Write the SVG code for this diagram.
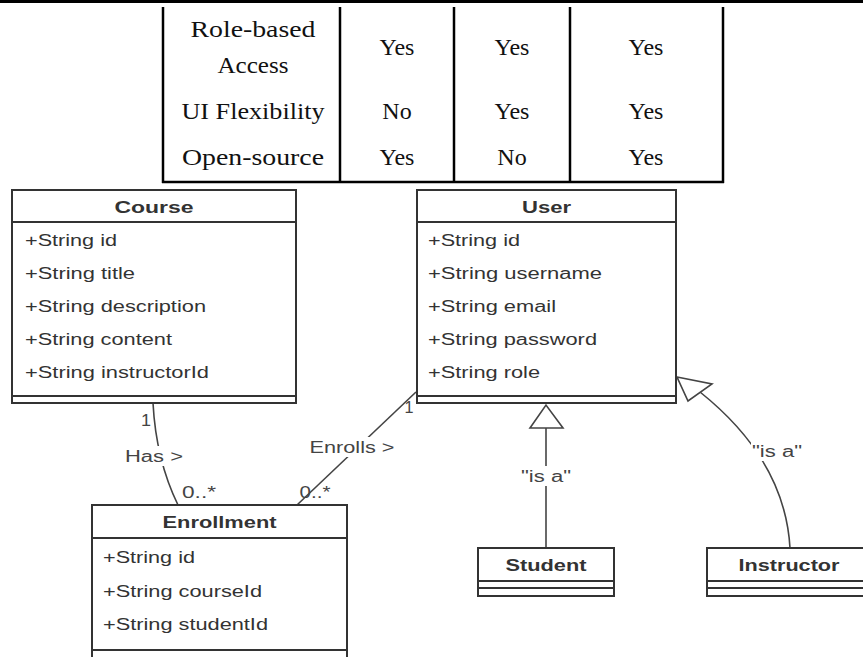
<svg xmlns="http://www.w3.org/2000/svg" width="863" height="657" viewBox="0 0 863 657">
<style>
.tbl{font-family:"Liberation Serif",serif;font-size:24px;fill:#111;text-anchor:middle}
.box{fill:#fff;stroke:#333;stroke-width:2}
.sep{stroke:#333;stroke-width:2}
.hd{font-family:"Liberation Sans",Arial,sans-serif;font-size:16px;font-weight:bold;fill:#333;text-anchor:middle}
.at{font-family:"Liberation Sans",Arial,sans-serif;font-size:16px;fill:#333}
.lb{font-family:"Liberation Sans",Arial,sans-serif;font-size:16px;fill:#444;text-anchor:middle}
.ln{fill:none;stroke:#444;stroke-width:1.6}
.tri{fill:#fff;stroke:#444;stroke-width:1.6}
.bg{fill:#fff}
</style>
<rect width="863" height="657" fill="#fff"/>
<g id="table">
<rect x="0" y="0" width="863" height="3" fill="#000"/>
<g stroke="#000" stroke-width="2.5">
<line x1="163" y1="7" x2="163" y2="183"/>
<line x1="340" y1="7" x2="340" y2="183"/>
<line x1="454" y1="7" x2="454" y2="183"/>
<line x1="570" y1="7" x2="570" y2="183"/>
<line x1="723" y1="7" x2="723" y2="183"/>
<line x1="162" y1="182" x2="724" y2="182"/>
</g>
<text class="tbl" x="253" y="37" textLength="125" lengthAdjust="spacingAndGlyphs">Role-based</text>
<text class="tbl" x="253" y="73" textLength="71" lengthAdjust="spacingAndGlyphs">Access</text>
<text class="tbl" x="253" y="119" textLength="143" lengthAdjust="spacingAndGlyphs">UI Flexibility</text>
<text class="tbl" x="253" y="165" textLength="142" lengthAdjust="spacingAndGlyphs">Open-source</text>
<text class="tbl" x="397" y="55">Yes</text>
<text class="tbl" x="512" y="55">Yes</text>
<text class="tbl" x="646" y="55">Yes</text>
<text class="tbl" x="397" y="119">No</text>
<text class="tbl" x="512" y="119">Yes</text>
<text class="tbl" x="646" y="119">Yes</text>
<text class="tbl" x="397" y="165">Yes</text>
<text class="tbl" x="512" y="165">No</text>
<text class="tbl" x="646" y="165">Yes</text>
</g>
<g id="connectors">
<path class="ln" d="M153,403 Q156,460 178,505"/>
<line class="ln" x1="416" y1="392" x2="297" y2="505"/>
<line class="ln" x1="546" y1="548" x2="546" y2="428"/>
<polygon class="tri" points="530,428 563,428 546,405"/>
<path class="ln" d="M790,548 Q785,460 700,392"/>
<polygon class="tri" points="677,377 712,384 688,401"/>
<rect class="bg" x="124" y="446" width="62" height="20"/>
<text class="lb" x="154" y="462" textLength="58" lengthAdjust="spacingAndGlyphs">Has &gt;</text>
<rect class="bg" x="308" y="437" width="90" height="20"/>
<text class="lb" x="352" y="453" textLength="85" lengthAdjust="spacingAndGlyphs">Enrolls &gt;</text>
<rect class="bg" x="520" y="466" width="52" height="20"/>
<text class="lb" x="546" y="482" textLength="50" lengthAdjust="spacingAndGlyphs">"is a"</text>
<rect class="bg" x="751" y="441" width="52" height="20"/>
<text class="lb" x="777" y="457" textLength="50" lengthAdjust="spacingAndGlyphs">"is a"</text>
<text class="lb" x="146" y="426" textLength="10" lengthAdjust="spacingAndGlyphs">1</text>
<text class="lb" x="199" y="498" textLength="34" lengthAdjust="spacingAndGlyphs">0..*</text>
<text class="lb" x="315" y="498" textLength="31" lengthAdjust="spacingAndGlyphs">0..*</text>
<text class="lb" x="409" y="413" textLength="9" lengthAdjust="spacingAndGlyphs">1</text>
</g>
<g id="course">
<rect class="box" x="12" y="190" width="284" height="213"/>
<line class="sep" x1="12" y1="222" x2="296" y2="222"/>
<line class="sep" x1="12" y1="396" x2="296" y2="396"/>
<text class="hd" x="154" y="213" textLength="79" lengthAdjust="spacingAndGlyphs">Course</text>
<text class="at" x="25" y="246" textLength="92" lengthAdjust="spacingAndGlyphs">+String id</text>
<text class="at" x="25" y="279" textLength="110" lengthAdjust="spacingAndGlyphs">+String title</text>
<text class="at" x="25" y="312" textLength="181" lengthAdjust="spacingAndGlyphs">+String description</text>
<text class="at" x="25" y="345" textLength="147" lengthAdjust="spacingAndGlyphs">+String content</text>
<text class="at" x="25" y="378" textLength="184" lengthAdjust="spacingAndGlyphs">+String instructorId</text>
</g>
<g id="user">
<rect class="box" x="417" y="190" width="259" height="213"/>
<line class="sep" x1="417" y1="222" x2="676" y2="222"/>
<line class="sep" x1="417" y1="396" x2="676" y2="396"/>
<text class="hd" x="546.5" y="213" textLength="49" lengthAdjust="spacingAndGlyphs">User</text>
<text class="at" x="428" y="246" textLength="92" lengthAdjust="spacingAndGlyphs">+String id</text>
<text class="at" x="428" y="279" textLength="174" lengthAdjust="spacingAndGlyphs">+String username</text>
<text class="at" x="428" y="312" textLength="128" lengthAdjust="spacingAndGlyphs">+String email</text>
<text class="at" x="428" y="345" textLength="169" lengthAdjust="spacingAndGlyphs">+String password</text>
<text class="at" x="428" y="378" textLength="112" lengthAdjust="spacingAndGlyphs">+String role</text>
</g>
<g id="enrollment">
<rect class="box" x="92" y="505" width="255" height="160"/>
<line class="sep" x1="92" y1="538" x2="347" y2="538"/>
<line class="sep" x1="92" y1="650" x2="347" y2="650"/>
<text class="hd" x="219.5" y="528" textLength="114" lengthAdjust="spacingAndGlyphs">Enrollment</text>
<text class="at" x="103" y="563" textLength="92" lengthAdjust="spacingAndGlyphs">+String id</text>
<text class="at" x="103" y="597" textLength="159" lengthAdjust="spacingAndGlyphs">+String courseId</text>
<text class="at" x="103" y="630" textLength="165" lengthAdjust="spacingAndGlyphs">+String studentId</text>
</g>
<g id="student">
<rect class="box" x="478" y="548" width="136" height="48"/>
<line class="sep" x1="478" y1="581" x2="614" y2="581"/>
<line class="sep" x1="478" y1="588" x2="614" y2="588"/>
<text class="hd" x="546" y="571" textLength="81" lengthAdjust="spacingAndGlyphs">Student</text>
</g>
<g id="instructor">
<rect class="box" x="707" y="548" width="164" height="48"/>
<line class="sep" x1="707" y1="581" x2="871" y2="581"/>
<line class="sep" x1="707" y1="588" x2="871" y2="588"/>
<text class="hd" x="789" y="571" textLength="101" lengthAdjust="spacingAndGlyphs">Instructor</text>
</g>
</svg>
